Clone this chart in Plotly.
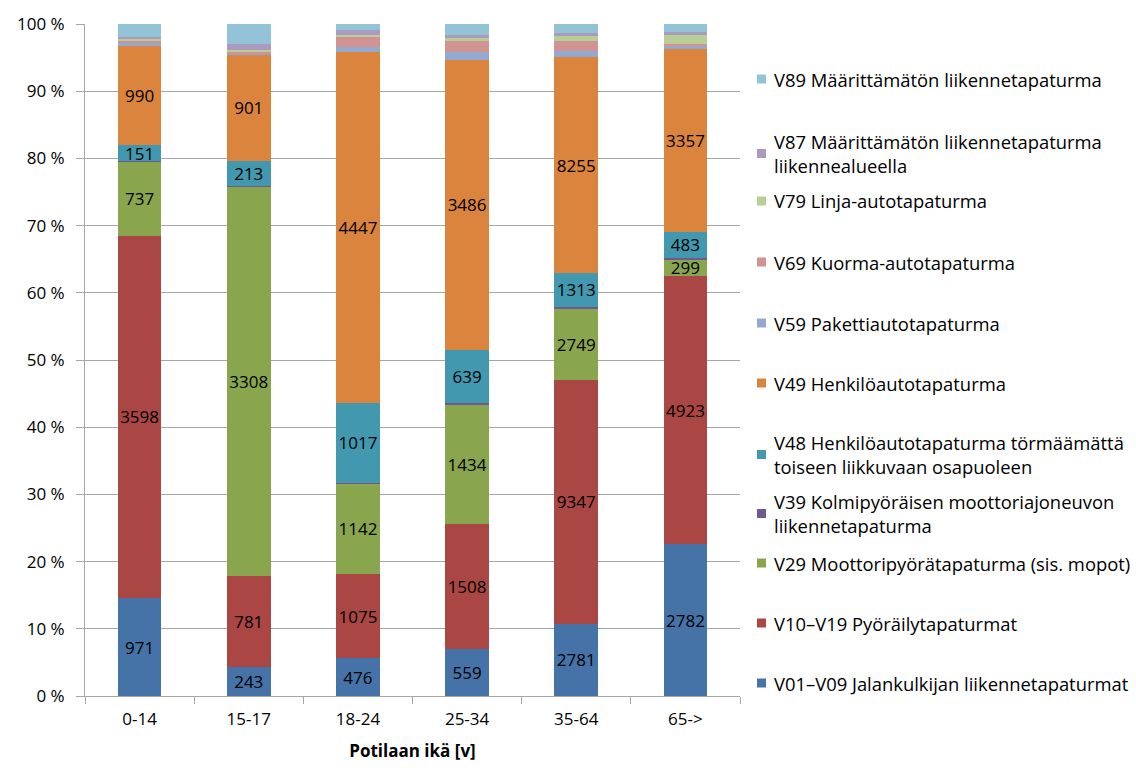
import plotly.graph_objects as go

# Age groups of the patients
categories = ["0-14", "15-17", "18-24", "25-34", "35-64", "65->"]

# Injury counts per accident type and age group
v01 = [971, 243, 476, 559, 2781, 2782]
v10 = [3598, 781, 1075, 1508, 9347, 4923]
v29 = [737, 3308, 1142, 1434, 2749, 299]
v39 = [8, 10, 8, 10, 60, 30]
v48 = [151, 213, 1017, 639, 1313, 483]
v49 = [990, 901, 4447, 3486, 8255, 3357]
v59 = [23, 8, 63, 88, 257, 49]
v69 = [20, 15, 140, 140, 370, 43]
v79 = [23, 20, 21, 32, 180, 165]
v87 = [23, 51, 55, 40, 128, 55]
v89 = [126, 167, 80, 128, 350, 140]

series_names = [
    "V01–V09 Jalankulkijan liikennetapaturmat",
    "V10–V19 Pyöräilytapaturmat",
    "V29 Moottoripyörätapaturma (sis. mopot)",
    "V39 Kolmipyöräisen moottoriajoneuvon<br>liikennetapaturma",
    "V48 Henkilöautotapaturma törmäämättä<br>toiseen liikkuvaan osapuoleen",
    "V49 Henkilöautotapaturma",
    "V59 Pakettiautotapaturma",
    "V69 Kuorma-autotapaturma",
    "V79 Linja-autotapaturma",
    "V87 Määrittämätön liikennetapaturma<br>liikennealueella",
    "V89 Määrittämätön liikennetapaturma",
]
series_values = [v01, v10, v29, v39, v48, v49, v59, v69, v79, v87, v89]
labelled = [True, True, True, False, True, True, False, False, False, False, False]

colors = ["#4572A7", "#AA4643", "#89A54E", "#71588F", "#4198AF", "#DB843D",
          "#93A9CF", "#D19392", "#B9CD96", "#A99BBD", "#92C3D6"]

FONT = "Open Sans"

fig = go.Figure()
for name, vals, col, lab in zip(series_names, series_values, colors, labelled):
    fig.add_trace(go.Bar(
        x=categories,
        y=vals,
        name=name,
        marker=dict(color=col, line=dict(width=0)),
        text=[str(v) for v in vals] if lab else None,
        textposition="inside" if lab else "none",
        insidetextanchor="middle",
        textangle=0,
        textfont=dict(family=FONT, size=17, color="#000000"),
        hoverinfo="skip",
    ))

# Plot area geometry in pixels (used to place the hand-drawn legend)
W, H = 1136, 779
L, R, T, B = 85, 396, 24, 83
pw, ph = W - L - R, H - T - B


def px_x(px):
    return (px - L) / pw


def px_y(py):
    return (H - B - py) / ph


# Legend entries, top to bottom, with the vertical centre of each text block
legend_rows = [(10, 79), (9, 153.5), (8, 201), (7, 262), (6, 323), (5, 383),
               (4, 454.5), (3, 513.5), (2, 563), (1, 623), (0, 683)]
annotations = []
shapes = []
for idx, yc in legend_rows:
    annotations.append(dict(
        x=px_x(772), y=px_y(yc), xref="paper", yref="paper",
        xanchor="left", yanchor="middle", align="left",
        text=series_names[idx], showarrow=False,
        font=dict(family=FONT, size=18.4, color="#000000"),
    ))
    shapes.append(dict(
        type="rect", xref="paper", yref="paper",
        x0=px_x(757), x1=px_x(766), y0=px_y(yc + 4.5), y1=px_y(yc - 4.5),
        fillcolor=colors[idx], line=dict(width=0),
    ))

fig.update_layout(
    width=W, height=H,
    margin=dict(l=L, r=R, t=T, b=B),
    barmode="stack",
    barnorm="percent",
    bargap=0.6,
    paper_bgcolor="white",
    plot_bgcolor="white",
    showlegend=False,
    uniformtext=dict(minsize=17, mode="show"),
    font=dict(family=FONT, size=17, color="#000000"),
    annotations=annotations,
    shapes=shapes,
    xaxis=dict(
        type="category",
        showline=True, linecolor="#A6A6A6", linewidth=1,
        ticks="outside", tickson="boundaries", ticklen=7, tickcolor="#A6A6A6",
        tickfont=dict(family=FONT, size=17),
        ticklabelstandoff=8,
        title=dict(text="<b>Potilaan ikä [v]</b>", font=dict(family=FONT, size=17), standoff=15),
        showgrid=False,
    ),
    yaxis=dict(
        range=[0, 100],
        tickvals=[0, 10, 20, 30, 40, 50, 60, 70, 80, 90, 100],
        ticktext=["0 %", "10 %", "20 %", "30 %", "40 %", "50 %", "60 %",
                  "70 %", "80 %", "90 %", "100 %"],
        showgrid=True, gridcolor="#A6A6A6", gridwidth=1,
        showline=True, linecolor="#A6A6A6", linewidth=1,
        ticks="outside", ticklen=8, tickcolor="#A6A6A6",
        tickfont=dict(family=FONT, size=17),
        ticklabelstandoff=8,
        zeroline=False,
    ),
)

fig.write_html("out.html")
